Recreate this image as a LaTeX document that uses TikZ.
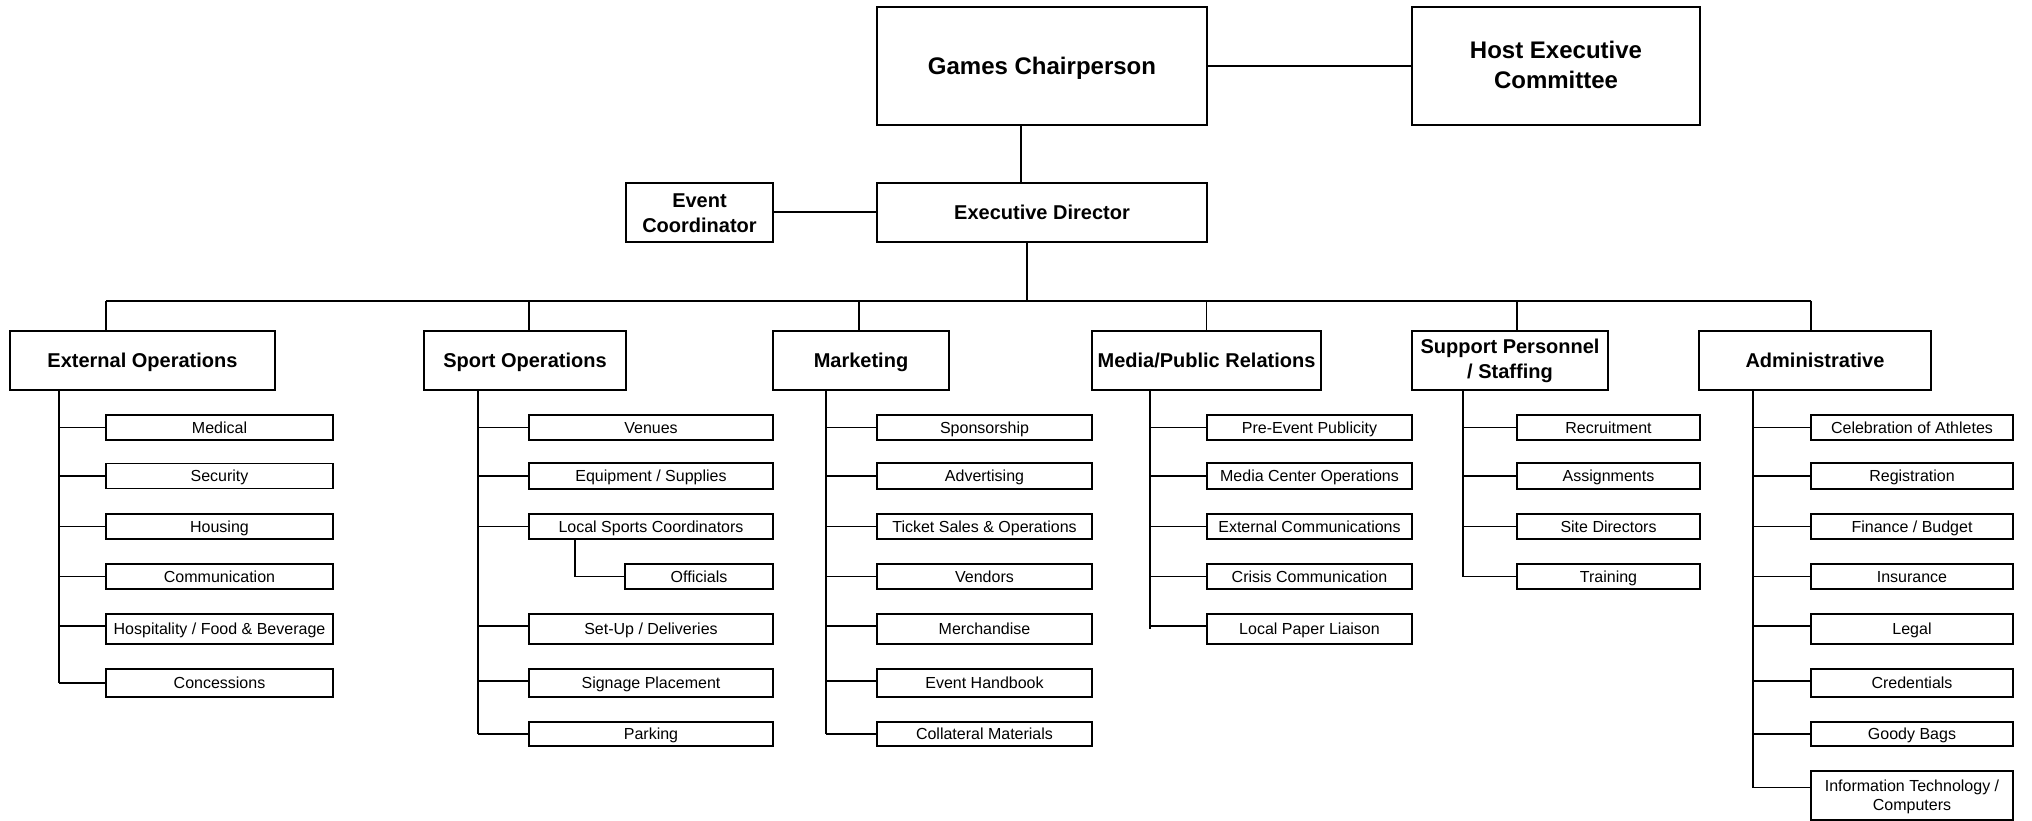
\documentclass[tikz,border=0pt]{standalone}
\usepackage{fontspec}
\setmainfont{Liberation Sans}
\begin{document}
\begin{tikzpicture}[x=1pt, y=-1pt,
  box/.style={draw, line width=2pt, inner sep=0pt, outer sep=0pt, align=center, text depth=0pt},
  topbox/.style={box, text height=17.2pt, font=\bfseries\fontsize{24}{30}\selectfont},
  deptbox/.style={box, minimum height=59pt, text height=14.3pt, font=\bfseries\fontsize{20}{25}\selectfont},
  subbox/.style={box, line width=1.8pt, minimum height=25pt, text height=11.5pt, font=\fontsize{16}{19}\selectfont},
  extsub/.style={subbox, minimum width=227pt},
  sportsub/.style={subbox, minimum width=244pt},
  mktsub/.style={subbox, minimum width=215pt},
  mediasub/.style={subbox, minimum width=205pt},
  suppsub/.style={subbox, minimum width=183pt},
  adminsub/.style={subbox, minimum width=202pt},
  main/.style={line width=2pt},
  link/.style={line width=1.4pt},
  twig/.style={line width=1.2pt}]
  \useasboundingbox (0,0) rectangle (2032,821);
  % top of the chart
  \node[topbox, minimum width=330pt, minimum height=118pt] (games) at (1042,66) {Games Chairperson};
  \node[topbox, minimum width=288pt, minimum height=118pt, text height=47.2pt, text depth=3pt] (host) at (1556,66) {Host Executive\\Committee};
  \node[deptbox, minimum width=330pt] (exec) at (1042,212.5) {Executive Director};
  \node[deptbox, minimum width=147pt, text height=39.3pt] (event) at (699.5,212.5) {Event\\Coordinator};
  % departments
  \node[deptbox, minimum width=265pt] (ext) at (142.5,360.5) {External Operations};
  \node[deptbox, minimum width=202pt] (sport) at (525,360.5) {Sport Operations};
  \node[deptbox, minimum width=176pt] (mkt) at (861,360.5) {Marketing};
  \node[deptbox, minimum width=229pt] (media) at (1206.5,360.5) {Media/Public Relations};
  \node[deptbox, minimum width=196pt, text height=39.3pt, text depth=3pt] (supp) at (1510,360.5) {Support Personnel\\/ Staffing};
  \node[deptbox, minimum width=232pt] (admin) at (1815,360.5) {Administrative};
  % external operations
  \node[extsub] (medical) at (219.5,427.5) {Medical};
  \node[extsub] (security) at (219.5,476) {Security};
  \node[extsub] (housing) at (219.5,526.5) {Housing};
  \node[extsub] (communication) at (219.5,576.5) {Communication};
  \node[extsub, minimum height=30pt] (hospitality) at (219.5,629) {Hospitality / Food \& Beverage};
  \node[extsub, minimum height=28pt] (concessions) at (219.5,683) {Concessions};
  % sport operations
  \node[sportsub] (venues) at (651,427.5) {Venues};
  \node[sportsub, minimum height=26pt] (equipment) at (651,476) {Equipment / Supplies};
  \node[sportsub] (localsports) at (651,526.5) {Local Sports Coordinators};
  \node[subbox, minimum width=148pt] (officials) at (699,576.5) {Officials};
  \node[sportsub, minimum height=30pt] (setup) at (651,629) {Set-Up / Deliveries};
  \node[sportsub, minimum height=28pt] (signage) at (651,683) {Signage Placement};
  \node[sportsub, minimum height=24pt] (parking) at (651,734) {Parking};
  % marketing
  \node[mktsub] (sponsorship) at (984.5,427.5) {Sponsorship};
  \node[mktsub, minimum height=26pt] (advertising) at (984.5,476) {Advertising};
  \node[mktsub] (tickets) at (984.5,526.5) {Ticket Sales \& Operations};
  \node[mktsub] (vendors) at (984.5,576.5) {Vendors};
  \node[mktsub, minimum height=30pt] (merchandise) at (984.5,629) {Merchandise};
  \node[mktsub, minimum height=28pt] (handbook) at (984.5,683) {Event Handbook};
  \node[mktsub, minimum height=24pt] (collateral) at (984.5,734) {Collateral Materials};
  % media / public relations
  \node[mediasub] (publicity) at (1309.5,427.5) {Pre-Event Publicity};
  \node[mediasub, minimum height=26pt] (mediacenter) at (1309.5,476) {Media Center Operations};
  \node[mediasub] (extcomm) at (1309.5,526.5) {External Communications};
  \node[mediasub] (crisis) at (1309.5,576.5) {Crisis Communication};
  \node[mediasub, minimum height=30pt] (paper) at (1309.5,629) {Local Paper Liaison};
  % support personnel
  \node[suppsub] (recruitment) at (1608.5,427.5) {Recruitment};
  \node[suppsub, minimum height=26pt] (assignments) at (1608.5,476) {Assignments};
  \node[suppsub] (sitedirectors) at (1608.5,526.5) {Site Directors};
  \node[suppsub] (training) at (1608.5,576.5) {Training};
  % administrative
  \node[adminsub] (athletes) at (1912,427.5) {Celebration of Athletes};
  \node[adminsub, minimum height=26pt] (registration) at (1912,476) {Registration};
  \node[adminsub] (finance) at (1912,526.5) {Finance / Budget};
  \node[adminsub] (insurance) at (1912,576.5) {Insurance};
  \node[adminsub, minimum height=30pt] (legal) at (1912,629) {Legal};
  \node[adminsub, minimum height=28pt] (credentials) at (1912,683) {Credentials};
  \node[adminsub, minimum height=24pt] (goodybags) at (1912,734) {Goody Bags};
  \node[adminsub, minimum height=49pt, text height=30.5pt] (infotech) at (1912,795.5) {Information Technology /\\Computers};

  % upper links
  \draw[main] (games.east) -- (host.west);
  \draw[main] (event.east) -- (exec.west);
  \draw[link] ([xshift=-21pt]games.south) -- ([xshift=-21pt]exec.north);
  \coordinate (busL) at (106,300.5);
  \coordinate (busR) at (1811,300.5);
  \draw[main] (busL) -- (busR);
  \draw[link] ([xshift=-15pt]exec.south) -- ([xshift=-15pt]exec.south |- busL);
  \draw[link] (busL) -- (busL |- ext.north);
  \draw[link] ([xshift=4pt]sport.north) -- ([xshift=4pt]sport.north |- busL);
  \draw[link] ([xshift=-2pt]mkt.north) -- ([xshift=-2pt]mkt.north |- busL);
  \draw[link] (media.north) -- (media.north |- busL);
  \draw[link] ([xshift=7pt]supp.north) -- ([xshift=7pt]supp.north |- busL);
  \draw[link] (busR) -- (busR |- admin.north);

  % stems under the departments
  \coordinate (extstem) at (59,390);
  \coordinate (sportstem) at (478,390);
  \coordinate (mktstem) at (826,390);
  \coordinate (mediastem) at (1150,390);
  \coordinate (suppstem) at (1463,390);
  \coordinate (adminstem) at (1753,390);
  \draw[link] (extstem) -- (concessions.west -| extstem);
  \draw[link] (sportstem) -- (parking.west -| sportstem);
  \draw[link] (mktstem) -- (collateral.west -| mktstem);
  \draw[link] (mediastem) -- (paper.west -| mediastem);
  \draw[link] (suppstem) -- (training.west -| suppstem);
  \draw[link] (adminstem) -- ([yshift=8pt]infotech.west -| adminstem);

  % twigs to the boxes
  \draw[twig] (medical.west) -- (medical.west -| extstem);
  \draw[twig] (security.west) -- (security.west -| extstem);
  \draw[twig] (housing.west) -- (housing.west -| extstem);
  \draw[twig] (communication.west) -- (communication.west -| extstem);
  \draw[twig] ([yshift=3pt]hospitality.west) -- ([yshift=3pt]hospitality.west -| extstem);
  \draw[twig] (concessions.west) -- (concessions.west -| extstem);
  \draw[twig] (venues.west) -- (venues.west -| sportstem);
  \draw[twig] (equipment.west) -- (equipment.west -| sportstem);
  \draw[twig] (localsports.west) -- (localsports.west -| sportstem);
  \draw[twig] ([xshift=-76pt]localsports.south) |- (officials.west);
  \draw[twig] ([yshift=3pt]setup.west) -- ([yshift=3pt]setup.west -| sportstem);
  \draw[twig] ([yshift=2pt]signage.west) -- ([yshift=2pt]signage.west -| sportstem);
  \draw[twig] (parking.west) -- (parking.west -| sportstem);
  \draw[twig] (sponsorship.west) -- (sponsorship.west -| mktstem);
  \draw[twig] (advertising.west) -- (advertising.west -| mktstem);
  \draw[twig] (tickets.west) -- (tickets.west -| mktstem);
  \draw[twig] (vendors.west) -- (vendors.west -| mktstem);
  \draw[twig] ([yshift=3pt]merchandise.west) -- ([yshift=3pt]merchandise.west -| mktstem);
  \draw[twig] ([yshift=2pt]handbook.west) -- ([yshift=2pt]handbook.west -| mktstem);
  \draw[twig] (collateral.west) -- (collateral.west -| mktstem);
  \draw[twig] (publicity.west) -- (publicity.west -| mediastem);
  \draw[twig] (mediacenter.west) -- (mediacenter.west -| mediastem);
  \draw[twig] (extcomm.west) -- (extcomm.west -| mediastem);
  \draw[twig] (crisis.west) -- (crisis.west -| mediastem);
  \draw[twig] ([yshift=3pt]paper.west) -- ([yshift=3pt]paper.west -| mediastem);
  \draw[twig] (recruitment.west) -- (recruitment.west -| suppstem);
  \draw[twig] (assignments.west) -- (assignments.west -| suppstem);
  \draw[twig] (sitedirectors.west) -- (sitedirectors.west -| suppstem);
  \draw[twig] (training.west) -- (training.west -| suppstem);
  \draw[twig] (athletes.west) -- (athletes.west -| adminstem);
  \draw[twig] (registration.west) -- (registration.west -| adminstem);
  \draw[twig] (finance.west) -- (finance.west -| adminstem);
  \draw[twig] (insurance.west) -- (insurance.west -| adminstem);
  \draw[twig] ([yshift=3pt]legal.west) -- ([yshift=3pt]legal.west -| adminstem);
  \draw[twig] ([yshift=2pt]credentials.west) -- ([yshift=2pt]credentials.west -| adminstem);
  \draw[twig] (goodybags.west) -- (goodybags.west -| adminstem);
  \draw[twig] ([yshift=8pt]infotech.west) -- ([yshift=8pt]infotech.west -| adminstem);
\end{tikzpicture}
\end{document}
